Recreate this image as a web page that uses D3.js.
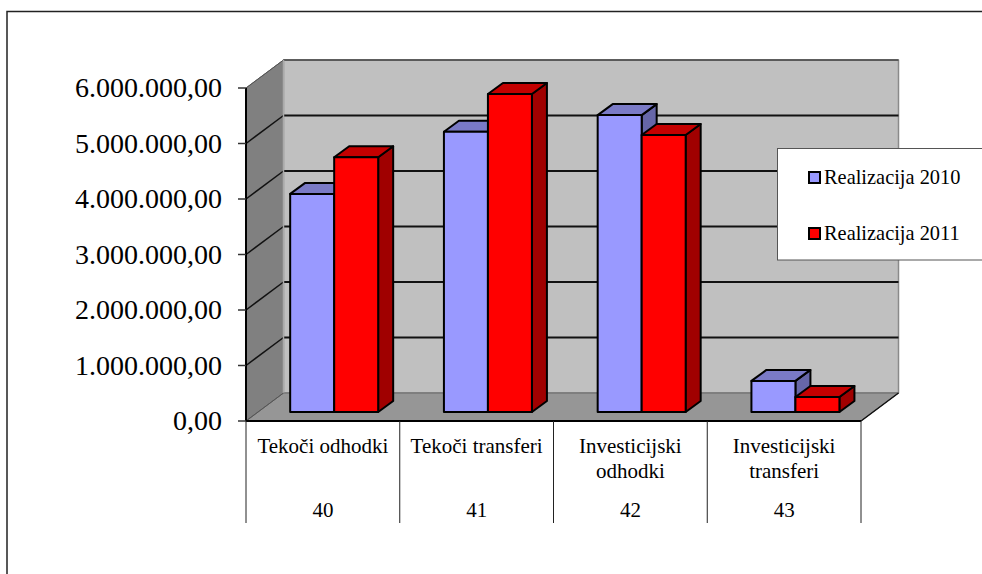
<!DOCTYPE html>
<html><head><meta charset="utf-8">
<script src="https://cdn.jsdelivr.net/npm/d3@7"></script>
<style>html,body{margin:0;padding:0;background:#fff}svg{display:block}text{font-family:"Liberation Serif",serif;fill:#000}</style>
</head><body><svg id="c" width="982" height="574"></svg>
<script>
const categories=["Tekoči odhodki","Tekoči transferi","Investicijski odhodki","Investicijski transferi"];
const categoryLines=[["Tekoči odhodki"],["Tekoči transferi"],["Investicijski","odhodki"],["Investicijski","transferi"]];
const codes=["40","41","42","43"];
const seriesNames=["Realizacija 2010","Realizacija 2011"];
const real2010=[3930000,5050000,5350000,560000];
const real2011=[4590000,5730000,4990000,270000];
const tickValues=[0,1000000,2000000,3000000,4000000,5000000,6000000];
const tickLabels=["0,00","1.000.000,00","2.000.000,00","3.000.000,00","4.000.000,00","5.000.000,00","6.000.000,00"];
const faces=[{front:"#9999ff",top:"#7a7ac6",side:"#6666a8"},{front:"#ff0000",top:"#c40000",side:"#a00000"}];

const svg=d3.select("#c");
const x=d3.scaleBand().domain(categories).range([246,861]);
const y=d3.scaleLinear().domain([0,6000000]).range([421,88]);
const wall={dx:37.5,dy:-28}, barFront={dx:12,dy:-9}, barDepth={dx:15,dy:-11};
const sub=d3.scaleBand().domain([0,1]).range([0,88]);
const poly=(pts,fill,stroke,sw)=>svg.append("polygon").attr("points",pts.map(p=>p.join(",")).join(" ")).attr("fill",fill).attr("stroke",stroke).attr("stroke-width",sw).attr("stroke-linejoin","round");
const ln=(x1,y1,x2,y2,c,w)=>svg.append("line").attr("x1",x1).attr("y1",y1).attr("x2",x2).attr("y2",y2).attr("stroke",c).attr("stroke-width",w);

// outer frame (open on the right and bottom, clipped by the page)
svg.append("path").attr("d","M982,11.5H7V574").attr("fill","none").attr("stroke","#222").attr("stroke-width",1.5);

const x0=x.range()[0],x1=x.range()[1],y0=y(0),yT=y(6000000);
// walls
poly([[x0+wall.dx,yT+wall.dy],[x1+wall.dx,yT+wall.dy],[x1+wall.dx,y0+wall.dy],[x0+wall.dx,y0+wall.dy]],"#c0c0c0","#8a8a8a",1.5);
poly([[x0,yT],[x0+wall.dx,yT+wall.dy],[x0+wall.dx,y0+wall.dy],[x0,y0]],"#808080","#666",1);
poly([[x0,y0],[x0+wall.dx,y0+wall.dy],[x1+wall.dx,y0+wall.dy],[x1,y0]],"#969696","#666",1);
// gridlines
tickValues.forEach(v=>{
  const yy=y(v);
  if(v>0) ln(x0+wall.dx,yy+wall.dy,x1+wall.dx,yy+wall.dy,v===6000000?"#444":"#111",v===6000000?1.5:2);
  if(v>0) ln(x0,yy,x0+wall.dx,yy+wall.dy,v===6000000?"#555":"#111",v===6000000?1:1.5);
});
ln(x0+wall.dx,yT+wall.dy,x0+wall.dx,y0+wall.dy,"#aaa",1.5);
ln(x0,y0,x0+wall.dx,y0+wall.dy,"#555",1);
ln(x1,y0,x1+wall.dx,y0+wall.dy,"#111",1.5);

// bars
const series=[real2010,real2011];
categories.forEach((cat,i)=>{
  series.forEach((vals,s)=>{
    const v=vals[i],f=faces[s];
    const l=x(cat)+(x.bandwidth()-sub.range()[1])/2+11.3+sub(s);
    const r=l+sub.bandwidth();
    const b=y(0)+barFront.dy, t=b-(y(0)-y(v));
    const d=barDepth;
    poly([[r,b],[r+d.dx,b+d.dy],[r+d.dx,t+d.dy],[r,t]],f.side,"#000",2);
    poly([[l,t],[l+d.dx,t+d.dy],[r+d.dx,t+d.dy],[r,t]],f.top,"#000",2);
    poly([[l,b],[r,b],[r,t],[l,t]],f.front,"#000",2);
  });
});

// axis
ln(x0,yT,x0,y0,"#000",2);
ln(x0,y0,x1,y0,"#000",2);
tickValues.forEach((v,i)=>{
  ln(x0-8,y(v),x0,y(v),"#333",1.5);
  svg.append("text").attr("x",222).attr("y",y(v)+9).attr("text-anchor","end").attr("font-size",28).text(tickLabels[i]);
});
// multi-level category axis
d3.range(5).forEach(i=>{
  const xx=x0+i*x.step();
  ln(xx,y0,xx,523,"#222",1);
});
categories.forEach((cat,i)=>{
  const cx=x(cat)+x.bandwidth()/2;
  categoryLines[i].forEach((t,k)=>svg.append("text").attr("x",cx).attr("y",453+k*25).attr("text-anchor","middle").attr("font-size",21).text(t));
  svg.append("text").attr("x",cx).attr("y",517).attr("text-anchor","middle").attr("font-size",21).text(codes[i]);
});
// legend
svg.append("rect").attr("x",777.5).attr("y",148.5).attr("width",210).attr("height",111.5).attr("fill","#fff").attr("stroke","#555");
seriesNames.forEach((n,i)=>{
  const ly=177+i*56;
  svg.append("rect").attr("x",809).attr("y",ly-5).attr("width",11).attr("height",11).attr("fill",faces[i].front).attr("stroke","#000").attr("stroke-width",2);
  svg.append("text").attr("x",824).attr("y",ly+7).attr("font-size",20.4).text(n);
});
</script></body></html>
